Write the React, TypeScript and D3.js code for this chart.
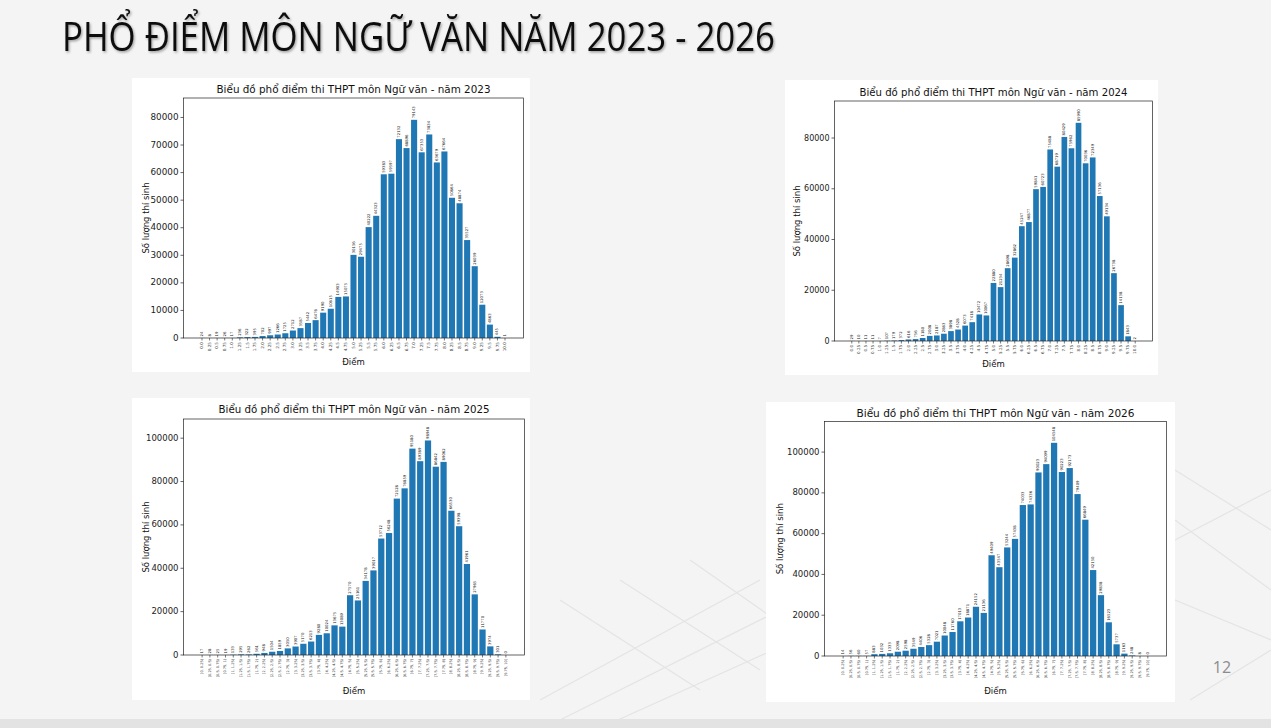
import React, { useEffect, useRef } from 'react';
import * as d3 from 'd3';

// Score categories (2023, 2024 use point labels, 2025, 2026 use half-open bins)
const SCORE_LABELS = [
    '0.0', '0.25', '0.5', '0.75', '1.0', '1.25', '1.5', '1.75', '2.0', '2.25',
    '2.5', '2.75', '3.0', '3.25', '3.5', '3.75', '4.0', '4.25', '4.5', '4.75',
    '5.0', '5.25', '5.5', '5.75', '6.0', '6.25', '6.5', '6.75', '7.0', '7.25',
    '7.5', '7.75', '8.0', '8.25', '8.5', '8.75', '9.0', '9.25', '9.5', '9.75',
    '10.0',
];

const BIN_LABELS = [
    '[0, 0.25)', '[0.25, 0.5)', '[0.5, 0.75)', '[0.75, 1)', '[1, 1.25)',
    '[1.25, 1.5)', '[1.5, 1.75)', '[1.75, 2)', '[2, 2.25)', '[2.25, 2.5)',
    '[2.5, 2.75)', '[2.75, 3)', '[3, 3.25)', '[3.25, 3.5)', '[3.5, 3.75)',
    '[3.75, 4)', '[4, 4.25)', '[4.25, 4.5)', '[4.5, 4.75)', '[4.75, 5)',
    '[5, 5.25)', '[5.25, 5.5)', '[5.5, 5.75)', '[5.75, 6)', '[6, 6.25)',
    '[6.25, 6.5)', '[6.5, 6.75)', '[6.75, 7)', '[7, 7.25)', '[7.25, 7.5)',
    '[7.5, 7.75)', '[7.75, 8)', '[8, 8.25)', '[8.25, 8.5)', '[8.5, 8.75)',
    '[8.75, 9)', '[9, 9.25)', '[9.25, 9.5)', '[9.5, 9.75)', '[9.75, 10]',
];

// Số lượng thí sinh theo từng mức điểm
const COUNTS_2023 = [
    24, 8, 19, 26, 17, 236, 322, 395, 702, 997,
    1266, 1725, 2712, 3587, 5442, 6476, 9190, 10615, 14903, 15075,
    30156, 29475, 40222, 44323, 59383, 59597, 72132, 68896, 79143, 67353,
    73834, 63679, 67664, 50864, 48874, 35527, 26039, 12073, 4863, 445,
    1,
];

const COUNTS_2024 = [
    29, 10, 11, 11, 7, 107, 179, 372, 616, 756,
    1180, 2008, 2187, 2863, 3898, 4528, 6073, 7418, 10472, 10067,
    22880, 21234, 28698, 32862, 45247, 46877, 59841, 60723, 75488, 68719,
    80429, 75962, 85990, 70036, 72349, 57136, 49134, 26738, 14138, 1843,
    2,
];

const COUNTS_2025 = [
    17, 28, 25, 19, 133, 295, 262, 561, 948, 1504,
    1859, 3050, 3907, 5170, 6213, 9280, 10024, 13675, 13089, 27570,
    25161, 34178, 39017, 53712, 56248, 72128, 76859, 95180, 89389, 98948,
    86842, 89062, 66530, 59398, 41961, 27965, 11770, 3974, 301, 0,
];

const COUNTS_2026 = [
    14, 56, 60, 57, 883, 1032, 1333, 2098, 2598, 3549,
    4406, 5328, 7021, 10048, 11760, 17013, 18871, 24152, 21136, 49409,
    43547, 53244, 57438, 74033, 74336, 90023, 94099, 104548, 90223, 92173,
    79409, 66849, 42150, 29838, 16523, 5737, 1163, 248, 8, 0,
];

const Y_TICKS_2023 = [0, 10000, 20000, 30000, 40000, 50000, 60000, 70000, 80000];
const Y_TICKS_2024 = [0, 20000, 40000, 60000, 80000];
const Y_TICKS_2025 = [0, 20000, 40000, 60000, 80000, 100000];
const Y_TICKS_2026 = [0, 20000, 40000, 60000, 80000, 100000];

const YEARS = ['2023', '2024', '2025', '2026'];

const BAR_COLOR = '#1f77b4';
const FONT = '"DejaVu Sans", sans-serif';

interface Panel {
    year: string;
    labels: string[];
    values: number[];
    yTicks: number[];
    box: [number, number, number, number];
    axes: [number, number, number, number]; // left, right, top, bottom
    tickFont: number;
    xTickFont: number;
    titleY: number;
    titleWidth: number;
    yLabelX: number;
    xLabelY: number;
}

const panels: Panel[] = [
    {
        year: YEARS[0], labels: SCORE_LABELS, values: COUNTS_2023, yTicks: Y_TICKS_2023,
        box: [132, 78, 398, 294], axes: [183.5, 523.5, 98, 338],
        tickFont: 8.8, xTickFont: 4.2, titleY: 92.5, titleWidth: 274, yLabelX: 146, xLabelY: 365,
    },
    {
        year: YEARS[1], labels: SCORE_LABELS, values: COUNTS_2024, yTicks: Y_TICKS_2024,
        box: [785, 80, 373, 295], axes: [834.5, 1152.5, 101, 341],
        tickFont: 8, xTickFont: 4, titleY: 95.5, titleWidth: 268, yLabelX: 797, xLabelY: 367,
    },
    {
        year: YEARS[2], labels: BIN_LABELS, values: COUNTS_2025, yTicks: Y_TICKS_2025,
        box: [132, 398, 398, 302], axes: [183.5, 524.5, 419, 655],
        tickFont: 8.5, xTickFont: 3.5, titleY: 412.5, titleWidth: 271, yLabelX: 146, xLabelY: 694,
    },
    {
        year: YEARS[3], labels: BIN_LABELS, values: COUNTS_2026, yTicks: Y_TICKS_2026,
        box: [766, 402, 409, 300], axes: [824.5, 1166.5, 421.5, 656],
        tickFont: 8.5, xTickFont: 3.5, titleY: 416.5, titleWidth: 278, yLabelX: 780, xLabelY: 694,
    },
];

function drawPanel(svg: d3.Selection<SVGSVGElement, unknown, null, undefined>, p: Panel) {
    const [bx, by, bw, bh] = p.box;
    const [left, right, top, bottom] = p.axes;
    const n = p.values.length;

    // nền trắng của ảnh biểu đồ
    svg.append('rect')
        .attr('x', bx).attr('y', by)
        .attr('width', bw).attr('height', bh)
        .attr('fill', '#ffffff');

    // matplotlib-style margins: 5% of the bar span on each side
    const span = n - 1 + 0.8;
    const margin = span * 0.05;
    const x = d3.scaleLinear()
        .domain([-0.4 - margin, n - 1 + 0.4 + margin])
        .range([left, right]);
    const y = d3.scaleLinear()
        .domain([0, (d3.max(p.values) as number) * 1.1])
        .range([bottom, top]);

    const g = svg.append('g');

    // cột
    g.selectAll('rect.bar')
        .data(p.values)
        .enter()
        .append('rect')
        .attr('class', 'bar')
        .attr('x', (_, i) => x(i - 0.4))
        .attr('width', x(0.8) - x(0))
        .attr('y', d => y(d))
        .attr('height', d => y(0) - y(d))
        .attr('fill', BAR_COLOR);

    // nhãn giá trị trên đầu cột
    g.selectAll('text.val')
        .data(p.values)
        .enter()
        .append('text')
        .attr('class', 'val')
        .attr('transform', (d, i) => `translate(${x(i)},${y(d) - 1.5}) rotate(-90)`)
        .attr('text-anchor', 'start')
        .attr('dominant-baseline', 'middle')
        .attr('font-family', FONT)
        .attr('font-size', 3.8)
        .attr('fill', '#222')
        .text(d => d);

    // khung trục
    g.append('rect')
        .attr('x', left).attr('y', top)
        .attr('width', right - left).attr('height', bottom - top)
        .attr('fill', 'none')
        .attr('stroke', '#222')
        .attr('stroke-width', 0.7);

    // trục y
    p.yTicks.forEach(t => {
        g.append('line')
            .attr('x1', left - 3).attr('x2', left)
            .attr('y1', y(t)).attr('y2', y(t))
            .attr('stroke', '#222').attr('stroke-width', 0.7);
        g.append('text')
            .attr('x', left - 5)
            .attr('y', y(t))
            .attr('text-anchor', 'end')
            .attr('dominant-baseline', 'middle')
            .attr('font-family', FONT)
            .attr('font-size', p.tickFont)
            .attr('fill', '#222')
            .text(t);
    });

    // trục x
    p.labels.forEach((lab, i) => {
        g.append('line')
            .attr('x1', x(i)).attr('x2', x(i))
            .attr('y1', bottom).attr('y2', bottom + 2.5)
            .attr('stroke', '#222').attr('stroke-width', 0.6);
        g.append('text')
            .attr('transform', `translate(${x(i)},${bottom + 4}) rotate(-90)`)
            .attr('text-anchor', 'end')
            .attr('dominant-baseline', 'middle')
            .attr('font-family', FONT)
            .attr('font-size', p.xTickFont)
            .attr('fill', '#333')
            .text(lab);
    });

    // tiêu đề và nhãn trục
    g.append('text')
        .attr('x', (left + right) / 2)
        .attr('y', p.titleY)
        .attr('text-anchor', 'middle')
        .attr('font-family', FONT)
        .attr('font-size', 9.8)
        .attr('textLength', p.titleWidth)
        .attr('lengthAdjust', 'spacingAndGlyphs')
        .attr('fill', '#111')
        .text(`Biểu đồ phổ điểm thi THPT môn Ngữ văn - năm ${p.year}`);

    g.append('text')
        .attr('transform', `translate(${p.yLabelX},${(top + bottom) / 2}) rotate(-90)`)
        .attr('text-anchor', 'middle')
        .attr('dominant-baseline', 'middle')
        .attr('font-family', FONT)
        .attr('font-size', 8.5)
        .attr('fill', '#111')
        .text('Số lượng thí sinh');

    g.append('text')
        .attr('x', (left + right) / 2)
        .attr('y', p.xLabelY)
        .attr('text-anchor', 'middle')
        .attr('font-family', FONT)
        .attr('font-size', 8.5)
        .attr('fill', '#111')
        .text('Điểm');
}

const App: React.FC = () => {
    const svgRef = useRef<SVGSVGElement>(null);

    useEffect(() => {
        if (!svgRef.current) return;
        document.body.style.margin = '0';

        const svg = d3.select(svgRef.current);
        svg.selectAll('*').remove();

        const width = 1271;
        const height = 728;

        // nền slide
        svg.append('rect')
            .attr('width', width).attr('height', height)
            .attr('fill', '#f4f4f4');

        // hoa văn lưới mờ phía dưới
        const deco = svg.append('g')
            .attr('stroke', '#e4e4e4')
            .attr('stroke-width', 1.2)
            .attr('fill', 'none');
        const decoLines: [number, number, number, number][] = [
            [540, 700, 760, 580], [560, 720, 800, 600], [600, 728, 840, 620],
            [560, 600, 700, 690], [620, 580, 760, 670], [690, 560, 790, 630],
            [1175, 470, 1271, 530], [1175, 540, 1271, 490], [1175, 600, 1271, 640],
            [1175, 520, 1271, 590], [1190, 700, 1271, 650],
        ];
        decoLines.forEach(([x1, y1, x2, y2]) => {
            deco.append('line')
                .attr('x1', x1).attr('y1', y1)
                .attr('x2', x2).attr('y2', y2);
        });

        // dải dưới cùng
        svg.append('rect')
            .attr('x', 0).attr('y', 719)
            .attr('width', width).attr('height', 9)
            .attr('fill', '#e3e3e3');

        // tiêu đề slide có bóng đổ
        const defs = svg.append('defs');
        const filter = defs.append('filter')
            .attr('id', 'title-shadow')
            .attr('x', '-5%').attr('y', '-20%')
            .attr('width', '110%').attr('height', '150%');
        filter.append('feDropShadow')
            .attr('dx', 1.2).attr('dy', 1.5)
            .attr('stdDeviation', 1)
            .attr('flood-color', '#000')
            .attr('flood-opacity', 0.35);

        svg.append('text')
            .attr('x', 62)
            .attr('y', 51)
            .attr('font-family', '"Open Sans", sans-serif')
            .attr('font-size', 40)
            .attr('textLength', 713)
            .attr('lengthAdjust', 'spacingAndGlyphs')
            .attr('fill', '#111')
            .attr('filter', 'url(#title-shadow)')
            .text('PHỔ ĐIỂM MÔN NGỮ VĂN NĂM 2023 - 2026');

        panels.forEach(p => drawPanel(svg, p));

        // số trang
        svg.append('text')
            .attr('x', 1222)
            .attr('y', 673)
            .attr('text-anchor', 'middle')
            .attr('font-family', '"Open Sans", sans-serif')
            .attr('font-size', 16)
            .attr('fill', '#8c8c8c')
            .text('12');
    }, []);

    return (
        <svg
            ref={svgRef}
            width="1271"
            height="728"
            style={{ display: 'block', position: 'absolute', left: 0, top: 0 }}
        ></svg>
    );
};

export default App;
